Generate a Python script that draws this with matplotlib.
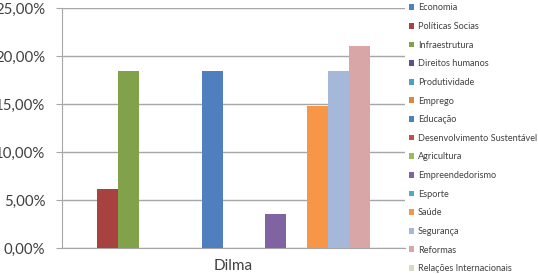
import matplotlib
matplotlib.use("Agg")
import matplotlib.pyplot as plt
from matplotlib.ticker import FuncFormatter

categories = ["Dilma"]
series_names = [
    "Economia", "Políticas Socias", "Infraestrutura", "Direitos humanos",
    "Produtividade", "Emprego", "Educação", "Desenvolvimento Sustentável",
    "Agricultura", "Empreendedorismo", "Esporte", "Saúde", "Segurança",
    "Reformas", "Relações Internacionais",
]
values = [0.0, 6.1, 18.4, 0.0, 0.0, 0.0, 18.4, 0.0, 0.0, 3.5, 0.0, 14.8, 18.4, 21.0, 0.0]
colors = [
    "#4F81BD", "#A8423F", "#82A14B", "#5E4E8C", "#4AA3B8", "#D9893F",
    "#4F7FBF", "#C0504D", "#9BBB59", "#8064A2", "#4BACC6", "#F79646",
    "#A5B8D9", "#D9A6A8", "#D6DCC4",
]
yticks = [0, 5, 10, 15, 20, 25]

W, H = 538, 274
fig = plt.figure(figsize=(W / 100, H / 100), dpi=100)
ax = fig.add_axes([62 / W, (H - 248) / H, (405 - 62) / W, (248 - 8) / H])

n = len(values)
group = 315 / 343
w = group / n
for i, (name, v, c) in enumerate(zip(series_names, values, colors)):
    ax.bar(-group / 2 + w * (i + 0.5), v, width=w, color=c, label=name, zorder=3)

ax.set_xlim(-0.5, 0.5)
ax.set_ylim(0, 25)
ax.set_yticks(yticks)
ax.yaxis.set_major_formatter(FuncFormatter(lambda y, p: f"{y:.2f}%".replace(".", ",")))
ax.set_xticks([0])
ax.set_xticklabels(categories)
ax.grid(axis="y", color="#A6A6A6", linewidth=1, zorder=0)
for s in ["top", "right"]:
    ax.spines[s].set_visible(False)
ax.spines["left"].set_color("#A6A6A6")
ax.spines["bottom"].set_color("#A6A6A6")
ax.tick_params(axis="y", length=4, color="#A6A6A6", labelsize=10.8, labelcolor="#404040", pad=8)
ax.tick_params(axis="x", length=0, labelsize=11, labelcolor="#404040", pad=8)
for t in ax.get_yticklabels() + ax.get_xticklabels():
    t.set_family("Lato")

leg = fig.legend(
    loc="upper left", bbox_to_anchor=(408 / W, 1 - 2.5 / H), frameon=False,
    handlelength=0.6, handleheight=0.6, handletextpad=0.4,
    labelspacing=1.05, borderaxespad=0, borderpad=0.1,
    prop={"family": "Lato", "size": 6.6},
)
for t in leg.get_texts():
    t.set_color("#404040")

fig.savefig("out.png", dpi=100)
